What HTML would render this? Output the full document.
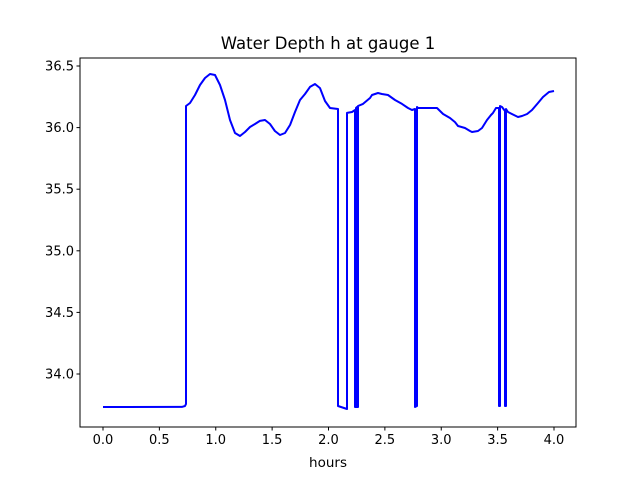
<!DOCTYPE html>
<html><head><meta charset="utf-8"><style>body{margin:0;background:#fff}svg{display:block;font-family:"DejaVu Sans","Liberation Sans",sans-serif}</style></head>
<body>
<svg id="chart" width="640" height="480">
<rect x="0" y="0" width="640" height="480" fill="#fff"/>
<text x="328" y="49" font-size="16.5" text-anchor="middle">Water Depth h at gauge 1</text>
<g id="plot"></g>
<text x="328" y="467" font-size="13.5" text-anchor="middle">hours</text>
</svg>
<script>
const hours = [0,0.700,0.727,0.736,0.736,0.772,0.816,0.860,0.905,0.949,0.993,1.038,1.082,1.126,1.171,1.215,1.259,1.304,1.348,1.392,1.437,1.481,1.525,1.570,1.614,1.659,1.703,1.747,1.792,1.836,1.880,1.925,1.969,2.013,2.084,2.084,2.164,2.164,2.208,2.235,2.235,2.244,2.244,2.253,2.253,2.262,2.262,2.306,2.368,2.386,2.439,2.474,2.528,2.590,2.652,2.705,2.741,2.767,2.767,2.785,2.785,2.794,2.829,2.900,2.962,3.016,3.078,3.122,3.149,3.211,3.255,3.273,3.326,3.361,3.406,3.441,3.459,3.486,3.512,3.512,3.521,3.521,3.539,3.565,3.565,3.574,3.574,3.592,3.627,3.681,3.716,3.761,3.805,3.858,3.902,3.956,4.0];
const depth = [33.732,33.733,33.740,33.757,36.175,36.200,36.265,36.346,36.403,36.435,36.427,36.346,36.224,36.062,35.956,35.932,35.964,36.005,36.029,36.054,36.062,36.029,35.972,35.940,35.956,36.022,36.127,36.224,36.273,36.330,36.354,36.321,36.216,36.159,36.151,33.740,33.716,36.119,36.127,36.143,33.732,33.732,36.159,36.167,33.732,33.732,36.175,36.192,36.240,36.265,36.281,36.273,36.265,36.224,36.192,36.159,36.143,36.151,33.732,33.740,36.167,36.159,36.159,36.159,36.159,36.110,36.078,36.045,36.013,35.997,35.972,35.964,35.972,35.997,36.062,36.102,36.119,36.159,36.159,33.740,33.740,36.175,36.167,36.135,33.740,33.740,36.151,36.127,36.110,36.086,36.094,36.110,36.143,36.200,36.248,36.289,36.297];
const xTicks = [0,0.5,1,1.5,2,2.5,3,3.5,4];
const xTickLabels = ["0.0","0.5","1.0","1.5","2.0","2.5","3.0","3.5","4.0"];
const yTicks = [34,34.5,35,35.5,36,36.5];
const yTickLabels = ["34.0","34.5","35.0","35.5","36.0","36.5"];
const L=80,R=576,T=58,B=427;
const sx=h=>103+h*112.75;
const sy=v=>374-(v-34)*123.2;
const NS="http://www.w3.org/2000/svg";
const g=document.getElementById('plot');
function mk(tag,attrs){const e=document.createElementNS(NS,tag);for(const k in attrs)e.setAttribute(k,attrs[k]);g.appendChild(e);return e;}
const line=mk('polyline',{points:hours.map((h,i)=>sx(h).toFixed(1)+','+sy(depth[i]).toFixed(1)).join(' '),fill:'none',stroke:'#0000ff','stroke-width':2,'stroke-linejoin':'round'});


const fr=mk('rect',{x:L,y:T,width:R-L,height:B-T,fill:'none',stroke:'#000','stroke-width':1});


xTicks.forEach((t,i)=>{const x=sx(t);mk('line',{x1:x,x2:x,y1:B,y2:B+3.5,stroke:'#000'});
const tx=mk('text',{x:x,y:B+17,'font-size':13,'text-anchor':'middle'});tx.textContent=xTickLabels[i];

});
yTicks.forEach((t,i)=>{const y=sy(t);mk('line',{x1:L-3.5,x2:L,y1:y,y2:y,stroke:'#000'});
const tx=mk('text',{x:L-6,y:y+4.5,'font-size':13,'text-anchor':'end'});tx.textContent=yTickLabels[i];

});
</script>
</body></html>
